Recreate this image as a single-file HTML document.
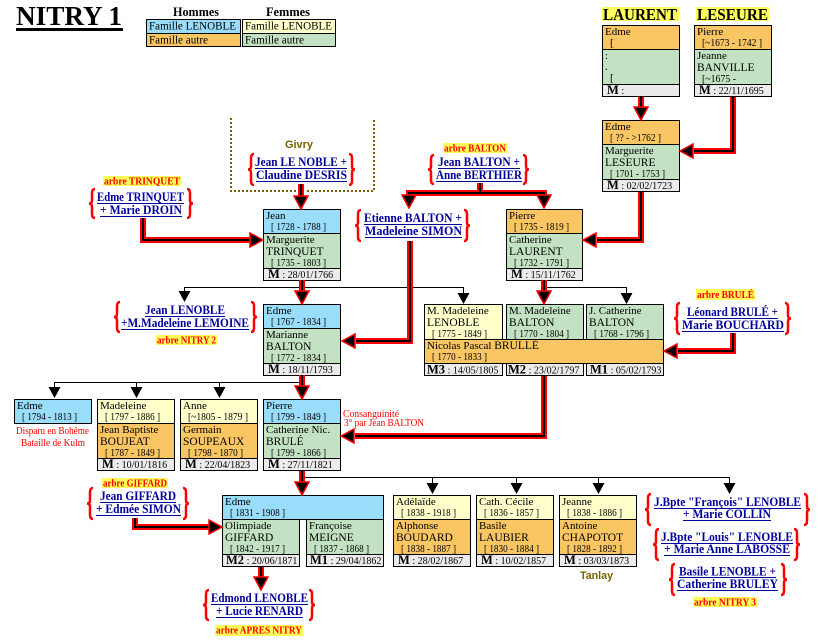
<!DOCTYPE html>
<html><head><meta charset="utf-8">
<style>
html,body{margin:0;padding:0;background:#fff;width:818px;height:640px;overflow:hidden}
svg{display:block}
text{font-family:"Liberation Serif",serif;fill:#000}
.n{font-size:11px}
.s{font-size:11.5px}
.m{font-size:10px}
.mb{font-weight:bold;font-size:12.5px}
.lk{font-weight:bold;font-size:13px;fill:#00009c}
.lb{font-weight:bold;font-size:10.5px;fill:#f00}
.rd{font-size:10px;fill:#f00}
.bl{fill:#9addfb}.or{fill:#f9c663}.ye{fill:#ffffcc}.gr{fill:#c3e2c3}.gy{fill:#ebebeb}
.bx{fill:none;stroke:#000;stroke-width:1}
.ln{fill:none;stroke:#000;stroke-width:1}
.ul{stroke:#00009c;stroke-width:1}
.yl{fill:#ffff5a}
</style></head><body>
<svg width="818" height="640" viewBox="0 0 818 640" xmlns="http://www.w3.org/2000/svg">

<!-- Title -->
<text x="16" y="25" style="font-weight:bold;font-size:27px" textLength="106" lengthAdjust="spacingAndGlyphs">NITRY 1</text>
<rect x="16" y="28" width="107" height="3" fill="#000"/>

<!-- Legend -->
<text x="173" y="16" style="font-weight:bold;font-size:13px" textLength="46" lengthAdjust="spacingAndGlyphs">Hommes</text>
<text x="266" y="16" style="font-weight:bold;font-size:13px" textLength="44" lengthAdjust="spacingAndGlyphs">Femmes</text>
<rect class="bl" x="146" y="19" width="95" height="14"/><rect class="or" x="146" y="33" width="95" height="14"/>
<rect class="bx" x="146.5" y="19.5" width="94" height="27"/><path class="ln" d="M146 33.5h95"/>
<rect class="ye" x="242" y="19" width="94" height="14"/><rect class="gr" x="242" y="33" width="94" height="14"/>
<rect class="bx" x="242.5" y="19.5" width="93" height="27"/><path class="ln" d="M242 33.5h94"/>
<text class="n" style="font-size:12px" x="149" y="29.5" textLength="87" lengthAdjust="spacingAndGlyphs">Famille LENOBLE</text>
<text class="n" style="font-size:12px" x="149" y="43.5" textLength="59" lengthAdjust="spacingAndGlyphs">Famille autre</text>
<text class="n" style="font-size:12px" x="245" y="29.5" textLength="87" lengthAdjust="spacingAndGlyphs">Famille LENOBLE</text>
<text class="n" style="font-size:12px" x="245" y="43.5" textLength="59" lengthAdjust="spacingAndGlyphs">Famille autre</text>

<!-- Headers -->
<rect class="yl" x="602" y="7" width="77" height="14"/>
<text x="603" y="20" style="font-weight:bold;font-size:16.5px" textLength="74" lengthAdjust="spacingAndGlyphs">LAURENT</text>
<rect class="yl" x="696" y="7" width="73" height="14"/>
<text x="697" y="20" style="font-weight:bold;font-size:16.5px" textLength="71" lengthAdjust="spacingAndGlyphs">LESEURE</text>

<!-- Givry dotted frame -->
<path d="M231 118V191H296M307 191H374V118" fill="none" stroke="#7a6000" stroke-width="2" stroke-dasharray="2 2"/>
<text x="285" y="148" style="font-family:'Liberation Sans',sans-serif;font-weight:bold;font-size:11px;fill:#7a6000" textLength="28" lengthAdjust="spacingAndGlyphs">Givry</text>
<text x="580" y="579" style="font-family:'Liberation Sans',sans-serif;font-weight:bold;font-size:11px;fill:#7a6000" textLength="33" lengthAdjust="spacingAndGlyphs">Tanlay</text>

<!-- ===== Boxes ===== -->
<!-- A LAURENT Edme -->
<rect class="or" x="602" y="25" width="78" height="24"/><rect class="gr" x="602" y="49" width="78" height="35"/><rect class="gy" x="602" y="84" width="78" height="13"/>
<rect class="bx" x="602.5" y="25.5" width="77" height="71"/><path class="ln" d="M602 49.5h78M602 84.5h78"/>
<text class="n" x="605" y="35">Edme</text><text class="n" x="610" y="46">[</text>
<text class="n" x="605" y="59">:</text><text class="n" x="605" y="70">.</text><text class="n" x="610" y="81">[</text>
<text class="m" x="607" y="94"><tspan class="mb">M</tspan> :</text>

<!-- B LESEURE -->
<rect class="or" x="694" y="25" width="78" height="24"/><rect class="gr" x="694" y="49" width="78" height="35"/><rect class="gy" x="694" y="84" width="78" height="13"/>
<rect class="bx" x="694.5" y="25.5" width="77" height="71"/><path class="ln" d="M694 49.5h78M694 84.5h78"/>
<text class="n" x="697" y="35">Pierre</text><text class="n" x="702" y="46" textLength="60" lengthAdjust="spacingAndGlyphs">[~1673 - 1742 ]</text>
<text class="n" x="697" y="59">Jeanne</text><text class="s" x="697" y="71">BANVILLE</text><text class="n" x="702" y="82" textLength="34" lengthAdjust="spacingAndGlyphs">[~1675 -</text>
<text class="m" x="699" y="94"><tspan class="mb">M</tspan> : 22/11/1695</text>

<!-- C Edme / Marguerite LESEURE -->
<rect class="or" x="602" y="120" width="78" height="24"/><rect class="gr" x="602" y="144" width="78" height="35"/><rect class="gy" x="602" y="179" width="78" height="13"/>
<rect class="bx" x="602.5" y="120.5" width="77" height="71"/><path class="ln" d="M602 144.5h78M602 179.5h78"/>
<text class="n" x="605" y="130">Edme</text><text class="n" x="610" y="141" textLength="51" lengthAdjust="spacingAndGlyphs">[ ?? - &gt;1762 ]</text>
<text class="n" x="605" y="154">Marguerite</text><text class="s" x="605" y="166">LESEURE</text><text class="n" x="610" y="177" textLength="55" lengthAdjust="spacingAndGlyphs">[ 1701 - 1753 ]</text>
<text class="m" x="607" y="189"><tspan class="mb">M</tspan> : 02/02/1723</text>

<!-- D Jean / Marguerite TRINQUET -->
<rect class="bl" x="263" y="209" width="78" height="24"/><rect class="gr" x="263" y="233" width="78" height="35"/><rect class="gy" x="263" y="268" width="78" height="13"/>
<rect class="bx" x="263.5" y="209.5" width="77" height="71"/><path class="ln" d="M263 233.5h78M263 268.5h78"/>
<text class="n" x="266" y="219">Jean</text><text class="n" x="271" y="230" textLength="55" lengthAdjust="spacingAndGlyphs">[ 1728 - 1788 ]</text>
<text class="n" x="266" y="243">Marguerite</text><text class="s" x="266" y="255">TRINQUET</text><text class="n" x="271" y="266" textLength="55" lengthAdjust="spacingAndGlyphs">[ 1735 - 1803 ]</text>
<text class="m" x="268" y="278"><tspan class="mb">M</tspan> : 28/01/1766</text>

<!-- E Pierre / Catherine LAURENT -->
<rect class="or" x="506" y="209" width="77" height="24"/><rect class="gr" x="506" y="233" width="77" height="35"/><rect class="gy" x="506" y="268" width="77" height="13"/>
<rect class="bx" x="506.5" y="209.5" width="76" height="71"/><path class="ln" d="M506 233.5h77M506 268.5h77"/>
<text class="n" x="509" y="219">Pierre</text><text class="n" x="514" y="230" textLength="55" lengthAdjust="spacingAndGlyphs">[ 1735 - 1819 ]</text>
<text class="n" x="509" y="243">Catherine</text><text class="s" x="509" y="255">LAURENT</text><text class="n" x="514" y="266" textLength="55" lengthAdjust="spacingAndGlyphs">[ 1732 - 1791 ]</text>
<text class="m" x="511" y="278"><tspan class="mb">M</tspan> : 15/11/1762</text>

<!-- F Edme / Marianne BALTON -->
<rect class="bl" x="263" y="304" width="78" height="24"/><rect class="gr" x="263" y="328" width="78" height="35"/><rect class="gy" x="263" y="363" width="78" height="13"/>
<rect class="bx" x="263.5" y="304.5" width="77" height="71"/><path class="ln" d="M263 328.5h78M263 363.5h78"/>
<text class="n" x="266" y="314">Edme</text><text class="n" x="271" y="325" textLength="55" lengthAdjust="spacingAndGlyphs">[ 1767 - 1834 ]</text>
<text class="n" x="266" y="338">Marianne</text><text class="s" x="266" y="350">BALTON</text><text class="n" x="271" y="361" textLength="55" lengthAdjust="spacingAndGlyphs">[ 1772 - 1834 ]</text>
<text class="m" x="268" y="373"><tspan class="mb">M</tspan> : 18/11/1793</text>

<!-- G Brullé complex -->
<rect class="ye" x="424" y="304" width="79" height="35"/><rect class="gr" x="506" y="304" width="78" height="35"/><rect class="gr" x="586" y="304" width="78" height="35"/>
<rect class="bx" x="424.5" y="304.5" width="78" height="35"/><rect class="bx" x="506.5" y="304.5" width="77" height="35"/><rect class="bx" x="586.5" y="304.5" width="77" height="35"/>
<rect class="or" x="424" y="339" width="240" height="24"/><rect class="bx" x="424.5" y="339.5" width="239" height="24"/>
<rect class="gy" x="424" y="363" width="79" height="13"/><rect class="gy" x="506" y="363" width="78" height="13"/><rect class="gy" x="586" y="363" width="78" height="13"/>
<rect class="bx" x="424.5" y="363.5" width="78" height="12"/><rect class="bx" x="506.5" y="363.5" width="77" height="12"/><rect class="bx" x="586.5" y="363.5" width="77" height="12"/>
<text class="n" x="427" y="314">M. Madeleine</text><text class="s" x="427" y="326">LENOBLE</text><text class="n" x="432" y="337" textLength="55" lengthAdjust="spacingAndGlyphs">[ 1775 - 1849 ]</text>
<text class="n" x="509" y="314">M. Madeleine</text><text class="s" x="509" y="326">BALTON</text><text class="n" x="514" y="337" textLength="55" lengthAdjust="spacingAndGlyphs">[ 1770 - 1804 ]</text>
<text class="n" x="589" y="314">J. Catherine</text><text class="s" x="589" y="326">BALTON</text><text class="n" x="594" y="337" textLength="55" lengthAdjust="spacingAndGlyphs">[ 1768 - 1796 ]</text>
<text class="n" x="427" y="349">Nicolas Pascal <tspan class="s">BRULLÉ</tspan></text>
<text class="n" x="432" y="360" textLength="55" lengthAdjust="spacingAndGlyphs">[ 1770 - 1833 ]</text>
<text class="m" x="427" y="373.5"><tspan class="mb">M3</tspan> : 14/05/1805</text>
<text class="m" x="508" y="373.5"><tspan class="mb">M2</tspan> : 23/02/1797</text>
<text class="m" x="590" y="373.5"><tspan class="mb">M1</tspan> : 05/02/1793</text>

<!-- H row -->
<rect class="bl" x="14" y="399" width="78" height="25"/><rect class="bx" x="14.5" y="399.5" width="77" height="24"/>
<text class="n" x="17" y="409">Edme</text><text class="n" x="22" y="420" textLength="55" lengthAdjust="spacingAndGlyphs">[ 1794 - 1813 ]</text>

<rect class="ye" x="97" y="399" width="78" height="24"/><rect class="or" x="97" y="423" width="78" height="35"/><rect class="gy" x="97" y="458" width="78" height="13"/>
<rect class="bx" x="97.5" y="399.5" width="77" height="71"/><path class="ln" d="M97 423.5h78M97 458.5h78"/>
<text class="n" x="100" y="409">Madeleine</text><text class="n" x="105" y="420" textLength="55" lengthAdjust="spacingAndGlyphs">[ 1797 - 1886 ]</text>
<text class="n" x="100" y="433">Jean Baptiste</text><text class="s" x="100" y="445">BOUJEAT</text><text class="n" x="105" y="456" textLength="55" lengthAdjust="spacingAndGlyphs">[ 1787 - 1849 ]</text>
<text class="m" x="102" y="468"><tspan class="mb">M</tspan> : 10/01/1816</text>

<rect class="ye" x="180" y="399" width="78" height="24"/><rect class="or" x="180" y="423" width="78" height="35"/><rect class="gy" x="180" y="458" width="78" height="13"/>
<rect class="bx" x="180.5" y="399.5" width="77" height="71"/><path class="ln" d="M180 423.5h78M180 458.5h78"/>
<text class="n" x="183" y="409">Anne</text><text class="n" x="188" y="420" textLength="60" lengthAdjust="spacingAndGlyphs">[~1805 - 1879 ]</text>
<text class="n" x="183" y="433">Germain</text><text class="s" x="183" y="445">SOUPEAUX</text><text class="n" x="188" y="456" textLength="55" lengthAdjust="spacingAndGlyphs">[ 1798 - 1870 ]</text>
<text class="m" x="185" y="468"><tspan class="mb">M</tspan> : 22/04/1823</text>

<rect class="bl" x="263" y="399" width="78" height="24"/><rect class="gr" x="263" y="423" width="78" height="35"/><rect class="gy" x="263" y="458" width="78" height="13"/>
<rect class="bx" x="263.5" y="399.5" width="77" height="71"/><path class="ln" d="M263 423.5h78M263 458.5h78"/>
<text class="n" x="266" y="409">Pierre</text><text class="n" x="271" y="420" textLength="55" lengthAdjust="spacingAndGlyphs">[ 1799 - 1849 ]</text>
<text class="n" x="266" y="433">Catherine Nic.</text><text class="s" x="266" y="445">BRULÉ</text><text class="n" x="271" y="456" textLength="55" lengthAdjust="spacingAndGlyphs">[ 1799 - 1866 ]</text>
<text class="m" x="268" y="468"><tspan class="mb">M</tspan> : 27/11/1821</text>

<!-- I row -->
<rect class="bl" x="222" y="495" width="162" height="24"/><rect class="bx" x="222.5" y="495.5" width="161" height="24"/>
<text class="n" x="225" y="505">Edme</text><text class="n" x="230" y="516" textLength="55" lengthAdjust="spacingAndGlyphs">[ 1831 - 1908 ]</text>
<rect class="gr" x="222" y="520" width="78" height="34"/><rect class="gy" x="222" y="554" width="78" height="13"/>
<rect class="bx" x="222.5" y="519.5" width="77" height="47"/><path class="ln" d="M222 554.5h78"/>
<text class="n" x="225" y="529">Olimpiade</text><text class="s" x="225" y="541">GIFFARD</text><text class="n" x="230" y="552" textLength="55" lengthAdjust="spacingAndGlyphs">[ 1842 - 1917 ]</text>
<text class="m" x="226" y="564"><tspan class="mb">M2</tspan> : 20/06/1871</text>
<rect class="gr" x="306" y="520" width="78" height="34"/><rect class="gy" x="306" y="554" width="78" height="13"/>
<rect class="bx" x="306.5" y="519.5" width="77" height="47"/><path class="ln" d="M306 554.5h78"/>
<text class="n" x="309" y="529">Françoise</text><text class="s" x="309" y="541">MEIGNE</text><text class="n" x="314" y="552" textLength="55" lengthAdjust="spacingAndGlyphs">[ 1837 - 1868 ]</text>
<text class="m" x="310" y="564"><tspan class="mb">M1</tspan> : 29/04/1862</text>

<rect class="ye" x="393" y="495" width="78" height="24"/><rect class="or" x="393" y="519" width="78" height="35"/><rect class="gy" x="393" y="554" width="78" height="13"/>
<rect class="bx" x="393.5" y="495.5" width="77" height="71"/><path class="ln" d="M393 519.5h78M393 554.5h78"/>
<text class="n" x="396" y="505">Adélaïde</text><text class="n" x="401" y="516" textLength="55" lengthAdjust="spacingAndGlyphs">[ 1838 - 1918 ]</text>
<text class="n" x="396" y="529">Alphonse</text><text class="s" x="396" y="541">BOUDARD</text><text class="n" x="401" y="552" textLength="55" lengthAdjust="spacingAndGlyphs">[ 1838 - 1887 ]</text>
<text class="m" x="398" y="564"><tspan class="mb">M</tspan> : 28/02/1867</text>

<rect class="ye" x="476" y="495" width="78" height="24"/><rect class="or" x="476" y="519" width="78" height="35"/><rect class="gy" x="476" y="554" width="78" height="13"/>
<rect class="bx" x="476.5" y="495.5" width="77" height="71"/><path class="ln" d="M476 519.5h78M476 554.5h78"/>
<text class="n" x="479" y="505">Cath. Cécile</text><text class="n" x="484" y="516" textLength="55" lengthAdjust="spacingAndGlyphs">[ 1836 - 1857 ]</text>
<text class="n" x="479" y="529">Basile</text><text class="s" x="479" y="541">LAUBIER</text><text class="n" x="484" y="552" textLength="55" lengthAdjust="spacingAndGlyphs">[ 1830 - 1884 ]</text>
<text class="m" x="481" y="564"><tspan class="mb">M</tspan> : 10/02/1857</text>

<rect class="ye" x="559" y="495" width="78" height="24"/><rect class="or" x="559" y="519" width="78" height="35"/><rect class="gy" x="559" y="554" width="78" height="13"/>
<rect class="bx" x="559.5" y="495.5" width="77" height="71"/><path class="ln" d="M559 519.5h78M559 554.5h78"/>
<text class="n" x="562" y="505">Jeanne</text><text class="n" x="567" y="516" textLength="55" lengthAdjust="spacingAndGlyphs">[ 1838 - 1886 ]</text>
<text class="n" x="562" y="529">Antoine</text><text class="s" x="562" y="541">CHAPOTOT</text><text class="n" x="567" y="552" textLength="55" lengthAdjust="spacingAndGlyphs">[ 1828 - 1892 ]</text>
<text class="m" x="564" y="564"><tspan class="mb">M</tspan> : 03/03/1873</text>

<!-- ===== Thin black connectors ===== -->
<path class="ln" d="M184.5 292V287.5H463.5V294M544.5 287.5H626.5V294M54.5 388V382.5H302M136.5 382.5V388M219.5 382.5V388M302 477.5H729.5V484M432.5 477.5V484M516.5 477.5V484M598.5 477.5V484"/>
<g fill="#000">
<polygon points="178.5,291 190.5,291 184.5,302"/>
<polygon points="457.5,293 469.5,293 463.5,304"/>
<polygon points="620.5,293 632.5,293 626.5,304"/>
<polygon points="48.5,387 60.5,387 54.5,398"/>
<polygon points="130.5,387 142.5,387 136.5,398"/>
<polygon points="213.5,387 225.5,387 219.5,398"/>
<polygon points="426.5,483 438.5,483 432.5,494"/>
<polygon points="510.5,483 522.5,483 516.5,494"/>
<polygon points="592.5,483 604.5,483 598.5,494"/>
<polygon points="723.5,483 735.5,483 729.5,494"/>
</g>

<!-- ===== Red thick connectors ===== -->
<g fill="none" stroke="#f00" stroke-width="6" stroke-linejoin="miter">
<path id="r" d="M641 97V108M733 97V151H694M641 192V240H597M301 184V197M480 183V193M409 196V193H544V196M143 218V240H250M410 241V341H356M302 280V292M544 280V292M733 333V351H678M302 375V387M544 376V436H355M302 471V483M135 518V527H209M261 567V578"/>
</g>
<g fill="none" stroke="#000" stroke-width="2" stroke-linejoin="miter">
<path d="M641 97V108M733 97V151H694M641 192V240H597M301 184V197M480 183V193M409 196V193H544V196M143 218V240H250M410 241V341H356M302 280V292M544 280V292M733 333V351H678M302 375V387M544 376V436H355M302 471V483M135 518V527H209M261 567V578"/>
</g>
<g fill="#000" stroke="#f00" stroke-width="1.5" stroke-linejoin="miter">
<polygon points="634,107 648,107 641,120"/>
<polygon points="294,196 308,196 301,209"/>
<polygon points="402,195 416,195 409,208"/>
<polygon points="537,195 551,195 544,208"/>
<polygon points="295,291 309,291 302,304"/>
<polygon points="537,291 551,291 544,304"/>
<polygon points="295,386 309,386 302,399"/>
<polygon points="295,482 309,482 302,495"/>
<polygon points="254,577 268,577 261,590"/>
<polygon points="680,151 693,144 693,158"/>
<polygon points="583,240 596,233 596,247"/>
<polygon points="342,341 355,334 355,348"/>
<polygon points="664,351 677,344 677,358"/>
<polygon points="341,436 354,429 354,443"/>
<polygon points="263,240 250,233 250,247"/>
<polygon points="222,527 209,520 209,534"/>
</g>

<!-- ===== Braces ===== -->
<g fill="none" stroke="#f00" stroke-width="2.5">
<path d="M254,154 Q251,154 251,158 V166.5 Q251,169.5 248,169.5 Q251,169.5 251,172.5 V181 Q251,185 254,185"/>
<path d="M349,154 Q352,154 352,158 V166.5 Q352,169.5 355,169.5 Q352,169.5 352,172.5 V181 Q352,185 349,185"/>
<path d="M434,155 Q431,155 431,159 V166.5 Q431,169.5 428,169.5 Q431,169.5 431,172.5 V180 Q431,184 434,184"/>
<path d="M523,155 Q526,155 526,159 V166.5 Q526,169.5 529,169.5 Q526,169.5 526,172.5 V180 Q526,184 523,184"/>
<path d="M95,189 Q92,189 92,193 V200.5 Q92,203.5 89,203.5 Q92,203.5 92,206.5 V214 Q92,218 95,218"/>
<path d="M187,189 Q190,189 190,193 V200.5 Q190,203.5 193,203.5 Q190,203.5 190,206.5 V214 Q190,218 187,218"/>
<path d="M361,210 Q358,210 358,214 V222.5 Q358,225.5 355,225.5 Q358,225.5 358,228.5 V237 Q358,241 361,241"/>
<path d="M464,210 Q467,210 467,214 V222.5 Q467,225.5 470,225.5 Q467,225.5 467,228.5 V237 Q467,241 464,241"/>
<path d="M120,302 Q117,302 117,306 V314 Q117,317 114,317 Q117,317 117,320 V328 Q117,332 120,332"/>
<path d="M251,302 Q254,302 254,306 V314 Q254,317 257,317 Q254,317 254,320 V328 Q254,332 251,332"/>
<path d="M680,303 Q677,303 677,307 V315.5 Q677,318.5 674,318.5 Q677,318.5 677,321.5 V330 Q677,334 680,334"/>
<path d="M785,303 Q788,303 788,307 V315.5 Q788,318.5 791,318.5 Q788,318.5 788,321.5 V330 Q788,334 785,334"/>
<path d="M93,488 Q90,488 90,492 V500.5 Q90,503.5 87,503.5 Q90,503.5 90,506.5 V515 Q90,519 93,519"/>
<path d="M183,488 Q186,488 186,492 V500.5 Q186,503.5 189,503.5 Q186,503.5 186,506.5 V515 Q186,519 183,519"/>
<path d="M209,590 Q206,590 206,594 V602 Q206,605 203,605 Q206,605 206,608 V616 Q206,620 209,620"/>
<path d="M309,590 Q312,590 312,594 V602 Q312,605 315,605 Q312,605 312,608 V616 Q312,620 309,620"/>
<path d="M651,494 Q648,494 648,498 V506.5 Q648,509.5 645,509.5 Q648,509.5 648,512.5 V521 Q648,525 651,525"/>
<path d="M804,494 Q807,494 807,498 V506.5 Q807,509.5 810,509.5 Q807,509.5 807,512.5 V521 Q807,525 804,525"/>
<path d="M659,529 Q656,529 656,533 V541.5 Q656,544.5 653,544.5 Q656,544.5 656,547.5 V556 Q656,560 659,560"/>
<path d="M794,529 Q797,529 797,533 V541.5 Q797,544.5 800,544.5 Q797,544.5 797,547.5 V556 Q797,560 794,560"/>
<path d="M675,564 Q672,564 672,568 V576.5 Q672,579.5 669,579.5 Q672,579.5 672,582.5 V591 Q672,595 675,595"/>
<path d="M781,564 Q784,564 784,568 V576.5 Q784,579.5 787,579.5 Q784,579.5 784,582.5 V591 Q784,595 781,595"/>
</g>

<!-- ===== Link texts ===== -->
<text class="lk" x="255" y="166" textLength="92" lengthAdjust="spacingAndGlyphs">Jean LE NOBLE +</text>
<text class="lk" x="256" y="179" textLength="91" lengthAdjust="spacingAndGlyphs">Claudine DESRIS</text>
<text class="lk" x="438" y="166" textLength="82" lengthAdjust="spacingAndGlyphs">Jean BALTON +</text>
<text class="lk" x="436" y="179" textLength="86" lengthAdjust="spacingAndGlyphs">Anne BERTHIER</text>
<text class="lk" x="97" y="201" textLength="87" lengthAdjust="spacingAndGlyphs">Edme TRINQUET</text>
<text class="lk" x="100" y="214" textLength="82" lengthAdjust="spacingAndGlyphs">+ Marie DROIN</text>
<text class="lk" x="364" y="222" textLength="98" lengthAdjust="spacingAndGlyphs">Etienne BALTON +</text>
<text class="lk" x="365" y="235" textLength="97" lengthAdjust="spacingAndGlyphs">Madeleine SIMON</text>
<text class="lk" x="145" y="314" textLength="80" lengthAdjust="spacingAndGlyphs">Jean LENOBLE</text>
<text class="lk" x="121" y="327" textLength="128" lengthAdjust="spacingAndGlyphs">+M.Madeleine LEMOINE</text>
<text class="lk" x="687" y="316" textLength="91" lengthAdjust="spacingAndGlyphs">Léonard BRULÉ +</text>
<text class="lk" x="682" y="329" textLength="102" lengthAdjust="spacingAndGlyphs">Marie BOUCHARD</text>
<text class="lk" x="100" y="500" textLength="76" lengthAdjust="spacingAndGlyphs">Jean GIFFARD</text>
<text class="lk" x="96" y="513" textLength="85" lengthAdjust="spacingAndGlyphs">+ Edmée SIMON</text>
<text class="lk" x="211" y="602" textLength="97" lengthAdjust="spacingAndGlyphs">Edmond LENOBLE</text>
<text class="lk" x="216" y="615" textLength="87" lengthAdjust="spacingAndGlyphs">+ Lucie RENARD</text>
<text class="lk" x="654" y="506" textLength="147" lengthAdjust="spacingAndGlyphs">J.Bpte "François" LENOBLE</text>
<text class="lk" x="683" y="518" textLength="88" lengthAdjust="spacingAndGlyphs">+ Marie COLLIN</text>
<text class="lk" x="661" y="541" textLength="132" lengthAdjust="spacingAndGlyphs">J.Bpte "Louis" LENOBLE</text>
<text class="lk" x="664" y="553" textLength="126" lengthAdjust="spacingAndGlyphs">+ Marie Anne LABOSSE</text>
<text class="lk" x="679" y="575.5" textLength="97" lengthAdjust="spacingAndGlyphs">Basile LENOBLE +</text>
<text class="lk" x="677" y="588" textLength="101" lengthAdjust="spacingAndGlyphs">Catherine BRULEY</text>
<path class="ul" d="M255 168.5H347M256 181.5H347M438 168.5H520M436 181.5H522M97 203.5H184M100 216.5H182M364 224.5H462M365 237.5H462M145 316.5H225M121 329.5H249M687 318.5H778M682 331.5H784M100 502.5H176M96 515.5H181M211 604.5H308M216 617.5H303M654 508.5H801M683 520.5H771M661 543.5H793M664 555.5H790M679 577.5H776M677 590.5H778"/>

<!-- ===== arbre labels ===== -->
<rect class="yl" x="103" y="176" width="78" height="10"/><text class="lb" x="104" y="184.5" textLength="76" lengthAdjust="spacingAndGlyphs">arbre TRINQUET</text>
<rect class="yl" x="443" y="143" width="64" height="10"/><text class="lb" x="444" y="151.5" textLength="62" lengthAdjust="spacingAndGlyphs">arbre BALTON</text>
<rect class="yl" x="156" y="335" width="61" height="10"/><text class="lb" x="157" y="343.5" textLength="59" lengthAdjust="spacingAndGlyphs">arbre NITRY 2</text>
<rect class="yl" x="696" y="289" width="59" height="11"/><text class="lb" x="697" y="298" textLength="57" lengthAdjust="spacingAndGlyphs">arbre BRULÉ</text>
<rect class="yl" x="102" y="478" width="66" height="10"/><text class="lb" x="103" y="486.5" textLength="64" lengthAdjust="spacingAndGlyphs">arbre GIFFARD</text>
<rect class="yl" x="215" y="625" width="88" height="11"/><text class="lb" x="216" y="633.5" textLength="86" lengthAdjust="spacingAndGlyphs">arbre APRES NITRY</text>
<rect class="yl" x="693" y="597" width="64" height="10"/><text class="lb" x="694" y="605.5" textLength="62" lengthAdjust="spacingAndGlyphs">arbre NITRY 3</text>

<!-- ===== red notes ===== -->
<text class="rd" x="16" y="434" textLength="73" lengthAdjust="spacingAndGlyphs">Disparu en Bohême</text>
<text class="rd" x="21" y="446" textLength="64" lengthAdjust="spacingAndGlyphs">Bataille de Kulm</text>
<text class="rd" x="343" y="417" textLength="56" lengthAdjust="spacingAndGlyphs">Consanguinité</text>
<text class="rd" x="344" y="426" textLength="80" lengthAdjust="spacingAndGlyphs">3° par Jean BALTON</text>

</svg>
</body></html>
